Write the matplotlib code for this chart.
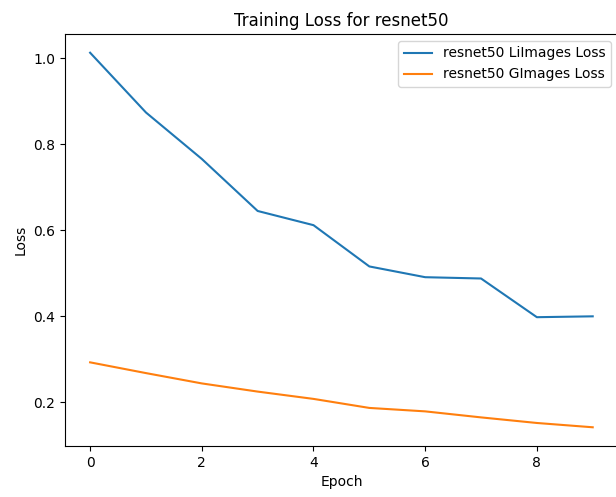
import matplotlib
matplotlib.use("Agg")
import matplotlib.pyplot as plt

epochs = list(range(10))
li_loss = [1.013, 0.874, 0.766, 0.645, 0.612, 0.516, 0.491, 0.488, 0.398, 0.400]
g_loss = [0.293, 0.268, 0.244, 0.225, 0.208, 0.187, 0.179, 0.165, 0.152, 0.142]

fig, ax = plt.subplots(figsize=(6.16, 4.97), dpi=100)
# the original was cropped just past the right spine
fig.subplots_adjust(left=0.1055, right=1.003, top=0.9316, bottom=0.1026)

ax.plot(epochs, li_loss, label='resnet50 LiImages Loss')
ax.plot(epochs, g_loss, label='resnet50 GImages Loss')
ax.set_xlabel('Epoch')
ax.set_ylabel('Loss')
ax.set_title('Training Loss for resnet50')
ax.legend()

fig.savefig('out.png', dpi=100)
